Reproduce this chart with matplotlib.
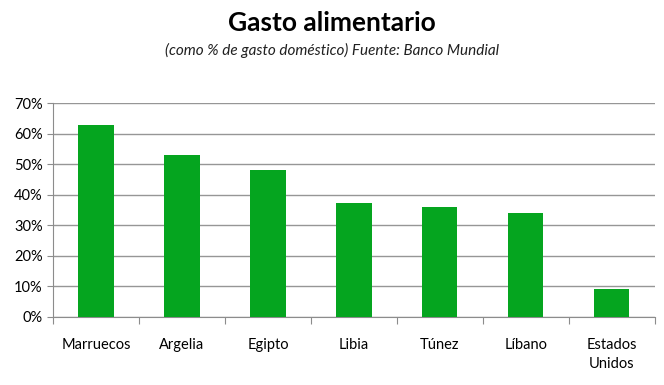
import numpy as np
import matplotlib.pyplot as plt
import matplotlib.ticker as ticker

plt.rcParams['font.family'] = ['Lato', 'DejaVu Sans']

paises = ['Marruecos', 'Argelia', 'Egipto', 'Libia', 'Túnez', 'Líbano', 'Estados\nUnidos']
gasto = [0.63, 0.53, 0.48, 0.373, 0.36, 0.34, 0.09]

fig = plt.figure(figsize=(6.64, 3.85), dpi=100)
ax = fig.add_axes([0.08, 0.177, 0.906, 0.555])

x = np.arange(len(paises))
ax.bar(x, gasto, width=0.41, color='#05A51F', zorder=3)

ax.set_xlim(-0.5, len(paises) - 0.5)
ax.set_ylim(0, 0.7)
ax.yaxis.set_major_locator(ticker.MultipleLocator(0.1))
ax.yaxis.set_major_formatter(ticker.PercentFormatter(1.0, decimals=0))
ax.grid(axis='y', color='#969696', linewidth=1, zorder=0)

# ticks between categories, labels centred
ax.set_xticks(np.arange(len(paises) + 1) - 0.5)
ax.set_xticklabels([])
ax.set_xticks(x, minor=True)
ax.set_xticklabels(paises, minor=True, fontsize=10.5, linespacing=1.45)
ax.tick_params(axis='x', which='minor', length=0, pad=15)
ax.tick_params(axis='x', which='major', length=5, color='#8c8c8c')
ax.tick_params(axis='y', length=4, color='#8c8c8c', labelsize=10.5)

for s in ['top', 'right']:
    ax.spines[s].set_visible(False)
for s in ['left', 'bottom']:
    ax.spines[s].set_color('#8c8c8c')

fig.text(0.5, 0.94, 'Gasto alimentario', ha='center', va='center',
         fontsize=19, fontweight='bold')
fig.text(0.5, 0.868, '(como % de gasto doméstico) Fuente: Banco Mundial',
         ha='center', va='center', fontsize=11, style='italic', color='#202020')

fig.savefig('out.png', dpi=100)
